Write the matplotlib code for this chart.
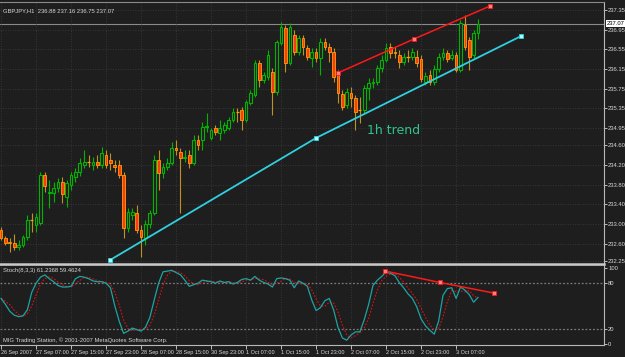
import matplotlib
matplotlib.use('Agg')
import matplotlib.pyplot as plt
import numpy as np
import pandas as pd

plt.rcParams['font.family'] = ['Liberation Sans', 'DejaVu Sans']

# GBPJPY H1 candles, 26 Sep 2007 23:00 .. 3 Oct 2007 12:00
opens = [232.88, 232.72, 232.64, 232.62, 232.54, 232.58, 232.74, 233.09, 232.99, 233.03,
         234.00, 233.64, 233.64, 233.74, 233.86, 233.55, 233.80, 233.96, 234.06, 234.20,
         234.26, 234.20, 234.26, 234.20, 234.41, 234.30, 234.20, 234.20, 234.00, 232.92,
         233.19, 233.23, 232.88, 232.72, 233.01, 233.23, 234.30, 234.04, 234.16, 234.24,
         234.55, 234.47, 234.35, 234.41, 234.24, 234.71, 234.71, 234.98, 234.75, 234.95,
         234.85, 234.91, 234.95, 235.12, 235.28, 235.32, 235.12, 235.46, 235.62, 236.27,
         235.93, 235.99, 236.09, 235.69, 236.68, 236.99, 236.27, 236.84, 236.50, 236.78,
         236.58, 236.38, 236.50, 236.38, 236.70, 236.60, 236.50, 236.07, 235.65, 235.42,
         235.67, 235.56, 235.32, 235.32, 235.77, 235.87, 235.89, 236.17, 236.34, 236.60,
         236.49, 236.44, 236.29, 236.40, 236.40, 236.40, 236.36, 235.89, 236.03, 235.89,
         236.15, 236.40, 236.48, 236.38, 236.44, 236.13, 237.05, 236.74, 236.44, 236.88]
highs = [232.94, 232.76, 232.72, 232.80, 232.68, 232.78, 233.19, 233.23, 233.23, 234.06,
         234.06, 233.90, 233.86, 233.94, 233.96, 233.90, 234.06, 234.14, 234.35, 234.51,
         234.41, 234.37, 234.41, 234.57, 234.51, 234.45, 234.30, 234.30, 234.06, 233.33,
         233.33, 233.39, 232.99, 233.09, 233.29, 234.41, 234.51, 234.24, 234.35, 234.67,
         234.71, 234.55, 234.51, 234.51, 234.81, 234.81, 235.08, 235.26, 234.95, 235.02,
         235.12, 235.08, 235.18, 235.36, 235.36, 235.38, 235.52, 235.73, 236.34, 236.34,
         236.09, 236.54, 236.17, 236.74, 237.11, 237.05, 237.09, 236.94, 236.84, 236.84,
         236.64, 236.58, 236.58, 236.78, 236.78, 236.68, 236.58, 236.13, 235.73, 235.77,
         235.79, 235.62, 235.58, 235.83, 235.97, 235.97, 236.23, 236.44, 236.68, 236.68,
         236.60, 236.54, 236.48, 236.54, 236.58, 236.54, 236.44, 236.09, 236.13, 236.23,
         236.48, 236.58, 236.54, 236.54, 236.50, 237.15, 237.25, 236.80, 236.94, 237.16]
lows = [232.68, 232.58, 232.44, 232.48, 232.48, 232.54, 232.68, 232.84, 232.84, 232.99,
        233.66, 233.33, 233.45, 233.66, 233.43, 233.35, 233.70, 233.86, 233.98, 234.14,
        234.16, 234.10, 234.14, 234.14, 234.14, 234.10, 234.06, 233.94, 232.72, 232.84,
        233.09, 232.82, 232.34, 232.58, 232.92, 233.19, 233.70, 233.94, 234.10, 234.20,
        234.41, 233.23, 234.26, 234.14, 234.20, 234.51, 234.51, 234.87, 234.71, 234.81,
        234.71, 234.85, 234.91, 235.08, 235.08, 234.91, 235.08, 235.42, 235.58, 235.79,
        235.87, 235.93, 235.22, 235.62, 236.64, 236.09, 236.23, 236.44, 236.44, 236.44,
        236.34, 236.19, 236.29, 236.03, 236.54, 236.29, 235.89, 235.46, 235.32, 235.36,
        235.38, 234.91, 235.06, 235.26, 235.52, 235.77, 235.83, 236.09, 236.29, 236.38,
        236.38, 236.17, 236.23, 236.29, 236.34, 236.19, 235.89, 235.83, 235.83, 235.83,
        236.09, 236.34, 236.29, 236.34, 236.09, 236.09, 236.54, 236.13, 236.38, 236.75]
closes = [232.72, 232.62, 232.62, 232.54, 232.58, 232.74, 233.09, 233.09, 233.15, 234.00,
          233.78, 233.66, 233.74, 233.86, 233.61, 233.84, 234.00, 234.06, 234.24, 234.26,
          234.26, 234.26, 234.20, 234.45, 234.20, 234.24, 234.16, 234.00, 232.92, 233.25,
          233.25, 232.88, 232.74, 233.01, 233.23, 234.30, 234.04, 234.16, 234.24, 234.55,
          234.51, 234.35, 234.37, 234.24, 234.71, 234.61, 234.98, 235.00, 234.91, 234.87,
          234.95, 235.02, 235.12, 235.28, 235.28, 235.12, 235.48, 235.67, 236.27, 235.93,
          236.03, 236.44, 235.69, 236.70, 237.01, 236.27, 237.01, 236.50, 236.78, 236.60,
          236.40, 236.50, 236.38, 236.70, 236.60, 236.50, 235.99, 235.67, 235.38, 235.69,
          235.56, 235.28, 235.32, 235.77, 235.87, 235.89, 236.17, 236.34, 236.58, 236.48,
          236.47, 236.29, 236.40, 236.40, 236.50, 236.27, 235.95, 236.01, 235.89, 236.15,
          236.40, 236.48, 236.36, 236.44, 236.13, 237.09, 236.60, 236.40, 236.88, 237.07]

# Stochastic(8,3,3) main line
stoch_k = [60, 52, 43, 38, 36, 37, 45, 68, 80, 88,
           91, 86, 82, 77, 75, 75, 76, 86, 89, 88,
           86, 83, 82, 82, 80, 74, 50, 30, 14, 17,
           21, 19, 17, 22, 35, 58, 80, 95, 96, 97,
           94, 91, 84, 76, 78, 80, 84, 83, 82, 80,
           83, 81, 82, 79, 81, 85, 86, 84, 89, 84,
           81, 79, 75, 86, 87, 86, 84, 74, 83, 80,
           76, 58, 44, 48, 57, 60, 45, 22, 8, 5,
           12, 16, 16, 32, 52, 77, 84, 89, 95, 93,
           90, 81, 74, 66, 60, 49, 33, 24, 18, 13,
           30, 64, 73, 74, 60, 75, 71, 65, 55, 61.24]

date_ticks = [0, 8, 16, 24, 32, 40, 48, 56, 64, 72, 80, 88, 96, 104]
date_labels = ['26 Sep 2007', '27 Sep 07:00', '27 Sep 15:00', '27 Sep 23:00', '28 Sep 07:00',
               '28 Sep 15:00', '30 Sep 23:00', '1 Oct 07:00', '1 Oct 15:00', '1 Oct 23:00',
               '2 Oct 07:00', '2 Oct 15:00', '2 Oct 23:00', '3 Oct 07:00']
price_ticks = [237.35, 236.95, 236.55, 236.15, 235.75, 235.35, 234.95, 234.60,
               234.20, 233.80, 233.40, 233.00, 232.60, 232.25]
stoch_ticks = [0, 20, 80, 100]

# hand-drawn trendlines: bar index / value of the three handles
trend_x = [24.9, 72.0, 118.9]
trend_y = [232.27, 234.75, 236.82]
resist_x = [77.0, 94.4, 111.8]
resist_y = [236.07, 236.76, 237.43]
stoch_line_x = [87.8, 100.3, 112.7]
stoch_line_y = [96, 81, 67]

BG = '#1e1e1e'
TXT = '#d6d6d6'
GRID = '#3e3e3e'
BULL = '#00b400'
BEAR_FILL = '#ff3a10'
BEAR_EDGE = '#ffa000'
BEAR_WICK = '#c09020'
CYAN = '#2fd0e0'
FS = 4.2

fig = plt.figure(figsize=(6.25, 3.57), dpi=100, facecolor=BG)
W, H = 625, 357
ax = fig.add_axes([0, 1 - 264 / H, 604 / W, 262 / H], facecolor=BG)
ax2 = fig.add_axes([0, 1 - 345 / H, 604 / W, 80 / H], facecolor=BG)

x = np.arange(len(closes))
o = np.array(opens)
c = np.array(closes)
hi = np.array(highs)
lo = np.array(lows)
up = c > o
dn = c < o
fl = c == o

# wicks
ax.vlines(x[up], lo[up], hi[up], color=BULL, lw=0.8, zorder=2)
ax.vlines(x[dn | fl], lo[dn | fl], hi[dn | fl], color=BEAR_WICK, lw=0.8, zorder=2)
# bodies
ax.bar(x[up], c[up] - o[up], bottom=o[up], width=0.62, facecolor=BG,
       edgecolor=BULL, linewidth=0.8, zorder=3)
ax.bar(x[dn], o[dn] - c[dn], bottom=c[dn], width=0.62, facecolor=BEAR_FILL,
       edgecolor=BEAR_EDGE, linewidth=0.6, zorder=3)
ax.hlines(c[fl], x[fl] - 0.35, x[fl] + 0.35, color=BEAR_EDGE, lw=0.9, zorder=3)

# trendlines
ax.plot(trend_x, trend_y, color=CYAN, lw=1.3, zorder=4)
ax.plot(trend_x, trend_y, ls='none', marker='s', ms=2.8,
        mfc='#b0ffff', mec=CYAN, mew=0.6, zorder=5)
ax.plot(resist_x, resist_y, color='#ff1818', lw=1.1, zorder=4)
ax.plot(resist_x, resist_y, ls='none', marker='s', ms=2.6, mfc='#ff8080', mec='#ff1818',
        mew=0.6, zorder=5)
ax.text(83.7, 234.91, '1h trend', color='#2ec48c', fontsize=9,
        family=['DejaVu Sans'], va='center', ha='left', zorder=5)

# current price line + marker
ax.axhline(closes[-1], color='#8a8a8a', lw=0.8, zorder=1)
ax.text(1.004, closes[-1], f'{closes[-1]:.2f}', transform=ax.get_yaxis_transform(),
        fontsize=FS, color='black', va='center', ha='left',
        bbox=dict(boxstyle='square,pad=0.15', facecolor='white', edgecolor='none'),
        zorder=6, clip_on=False)

ax.text(0.005, 0.975, 'GBPJPY,H1  236.88 237.16 236.75 237.07', transform=ax.transAxes,
        color=TXT, fontsize=FS, va='top', ha='left')

xlim = (-0.25, 137.8)
ax.set_xlim(*xlim)
ax.set_ylim(232.19, 237.51)
ax.set_xticks(date_ticks)
ax.tick_params(axis='x', bottom=False, labelbottom=False)
ax.yaxis.tick_right()
ax.set_yticks(price_ticks)
ax.set_yticklabels([f'{v:.2f}' for v in price_ticks])
ax.tick_params(axis='y', length=2, width=0.6, pad=1, labelsize=FS,
               colors=TXT, right=True, left=False)
ax.grid(True, color=GRID, lw=0.6, ls=(0, (1, 2)))
ax.spines['left'].set_visible(False)
ax.spines['right'].set_color('#b8b8b8')
ax.spines['top'].set_color('#8a8a8a')
ax.spines['bottom'].set_color('#c8c8c8')
ax.spines['bottom'].set_linewidth(1.8)

# stochastic panel
k = pd.Series(stoch_k)
d = k.rolling(3, min_periods=1).mean()
ax2.plot(x, k, color='#1fa3a3', lw=0.9, zorder=3)
ax2.plot(x, d, color='#e01010', lw=0.8, ls=(0, (1.5, 1.5)), zorder=2)
ax2.plot(stoch_line_x, stoch_line_y, color='#ff1818', lw=1.1, zorder=4)
ax2.plot(stoch_line_x, stoch_line_y, ls='none', marker='s', ms=2.6, mfc='#ff8080',
         mec='#ff1818', mew=0.6, zorder=5)
for lvl in [20, 80]:
    ax2.axhline(lvl, color='#7a7a7a', lw=0.9, ls=(0, (1.5, 1.5)), zorder=1)

ax2.text(0.005, 0.96, 'Stoch(8,3,3) 61.2368 59.4624', transform=ax2.transAxes,
         color=TXT, fontsize=FS, va='top', ha='left')
ax2.text(0.005, 0.03, 'MIG Trading Station, \u00a9 2001-2007 MetaQuotes Software Corp.',
         transform=ax2.transAxes, color=TXT, fontsize=FS, va='bottom', ha='left')

ax2.set_xlim(*xlim)
ax2.set_ylim(-1.3, 104)
ax2.set_xticks(date_ticks)
ax2.set_xticklabels(date_labels, ha='left')
ax2.tick_params(axis='x', length=3, width=0.6, pad=0.5, labelsize=4.0, colors=TXT)
ax2.yaxis.tick_right()
ax2.set_yticks(stoch_ticks)
ax2.tick_params(axis='y', length=2, width=0.6, pad=1, labelsize=FS,
                colors=TXT, right=True, left=False)
ax2.grid(True, axis='x', color=GRID, lw=0.6, ls=(0, (1, 2)))
ax2.spines['left'].set_visible(False)
ax2.spines['right'].set_color('#b8b8b8')
ax2.spines['top'].set_color('#c8c8c8')
ax2.spines['top'].set_linewidth(1.2)
ax2.spines['bottom'].set_color('#b8b8b8')

fig.savefig('out.png', dpi=100, facecolor=BG)
plt.close(fig)
